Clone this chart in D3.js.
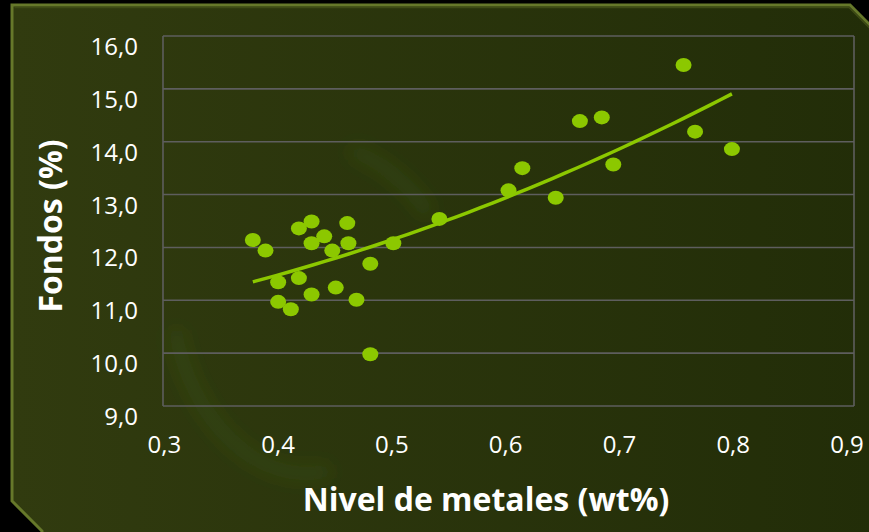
<!DOCTYPE html>
<html>
<head>
<meta charset="utf-8">
<script src="https://cdn.jsdelivr.net/npm/d3@7/dist/d3.min.js"></script>
<style>
  html, body { margin: 0; padding: 0; background: #000; }
  svg { display: block; }
</style>
</head>
<body>
<svg id="chart" width="869" height="532"></svg>
<script>
// Metal content (wt%) vs. bottoms yield (%)
const metales = [0.378, 0.389, 0.400, 0.400, 0.411, 0.418, 0.418, 0.429, 0.429, 0.429,
                 0.440, 0.447, 0.450, 0.460, 0.461, 0.468, 0.480, 0.480, 0.500, 0.540,
                 0.600, 0.612, 0.641, 0.662, 0.681, 0.691, 0.752, 0.762, 0.794];
const fondos  = [12.14, 11.94, 11.34, 10.97, 10.83, 12.36, 11.42, 12.49, 12.08, 11.11,
                 12.21, 11.94, 11.24, 12.46, 12.08, 11.01, 11.69, 9.98, 12.08, 12.54,
                 13.08, 13.50, 12.94, 14.39, 14.46, 13.57, 15.45, 14.19, 13.86];
const xTicks = [0.3, 0.4, 0.5, 0.6, 0.7, 0.8, 0.9];
const yTicks = [9, 10, 11, 12, 13, 14, 15, 16];

(function draw() {
  const svg = d3.select("#chart");
  const W = 869, H = 532;
  const pLeft = 163, pRight = 854, pTop = 36, pBottom = 406;
  const green = "#8cc800";
  const fmt = v => d3.format(".1f")(v).replace(".", ",");

  const x = d3.scaleLinear().domain([0.3, 0.9]).range([pLeft, pRight]);
  const y = d3.scaleLinear().domain([9, 16]).range([pBottom, pTop]);

  // background panel
  const defs = svg.append("defs");
  const grad = defs.append("linearGradient").attr("id", "panel")
    .attr("x1", "0").attr("x2", "1").attr("y1", "0").attr("y2", "0");
  grad.append("stop").attr("offset", "0").attr("stop-color", "#313b0f");
  grad.append("stop").attr("offset", "1").attr("stop-color", "#222d08");
  defs.append("filter").attr("id", "soft")
    .attr("x", "-50%").attr("y", "-50%").attr("width", "200%").attr("height", "200%")
    .append("feGaussianBlur").attr("stdDeviation", 9);

  svg.append("rect").attr("width", W).attr("height", H).attr("fill", "#000");
  svg.append("path").attr("d", "M12,5 L850,5 L876,31 L876,540 L42,540 L42,531 L12,501 Z")
    .attr("fill", "url(#panel)").attr("stroke", "#66782a").attr("stroke-width", 3);
  svg.append("path").attr("d", "M14.5,7.5 L849,7.5 L873,31.5")
    .attr("fill", "none").attr("stroke", "#3f4b16").attr("stroke-width", 1.5);

  // faint decorative swirl
  svg.append("path")
    .attr("d", "M175,330 C190,420 260,490 330,470 M350,150 C380,160 410,185 430,215")
    .attr("fill", "none").attr("stroke", "#4f7a1c").attr("stroke-opacity", 0.18)
    .attr("stroke-width", 16).attr("filter", "url(#soft)");

  // gridlines and plot border
  const g = svg.append("g");
  g.selectAll("line.grid").data(yTicks).join("line")
    .attr("x1", pLeft).attr("x2", pRight)
    .attr("y1", d => y(d)).attr("y2", d => y(d))
    .attr("stroke", "#5e5e5e").attr("stroke-width", 1.6);
  g.append("line").attr("x1", pLeft).attr("x2", pLeft).attr("y1", pTop).attr("y2", pBottom)
    .attr("stroke", "#5e5e5e").attr("stroke-width", 1.6);
  g.append("line").attr("x1", pRight).attr("x2", pRight).attr("y1", pTop).attr("y2", pBottom)
    .attr("stroke", "#5e5e5e").attr("stroke-width", 1.6);

  // tick labels
  svg.selectAll("text.yt").data(yTicks).join("text")
    .attr("x", 138).attr("y", d => y(d) + 19)
    .attr("text-anchor", "end").attr("fill", "#fff")
    .attr("font-family", "Open Sans").attr("font-size", 24)
    .text(fmt);
  svg.selectAll("text.xt").data(xTicks).join("text")
    .attr("x", d => x(d) - (d - 0.4) * 14).attr("y", 453)
    .attr("text-anchor", "middle").attr("fill", "#fff")
    .attr("font-family", "Open Sans").attr("font-size", 24)
    .text(fmt);

  // axis titles
  svg.append("text").attr("x", 486).attr("y", 511)
    .attr("text-anchor", "middle").attr("fill", "#fff")
    .attr("font-family", "Open Sans").attr("font-weight", "bold").attr("font-size", 32)
    .text("Nivel de metales (wt%)");
  svg.append("text").attr("transform", "translate(62,226) rotate(-90)")
    .attr("text-anchor", "middle").attr("fill", "#fff")
    .attr("font-family", "Open Sans").attr("font-weight", "bold").attr("font-size", 32)
    .text("Fondos (%)");

  // quadratic least-squares trend line
  const pts = metales.map((m, i) => [m, fondos[i]]);
  function polyFit(data, deg) {
    const n = deg + 1;
    const A = Array.from({length: n}, () => new Array(n + 1).fill(0));
    for (const [xv, yv] of data) {
      for (let r = 0; r < n; r++) {
        for (let c = 0; c < n; c++) A[r][c] += Math.pow(xv, r + c);
        A[r][n] += yv * Math.pow(xv, r);
      }
    }
    for (let i = 0; i < n; i++) {
      let p = i;
      for (let k = i + 1; k < n; k++) if (Math.abs(A[k][i]) > Math.abs(A[p][i])) p = k;
      [A[i], A[p]] = [A[p], A[i]];
      for (let k = i + 1; k < n; k++) {
        const f = A[k][i] / A[i][i];
        for (let c = i; c <= n; c++) A[k][c] -= f * A[i][c];
      }
    }
    const coef = new Array(n).fill(0);
    for (let i = n - 1; i >= 0; i--) {
      let s = A[i][n];
      for (let c = i + 1; c < n; c++) s -= A[i][c] * coef[c];
      coef[i] = s / A[i][i];
    }
    return coef;
  }
  const coef = polyFit(pts, 2);
  const [xmin, xmax] = d3.extent(metales);
  const trend = d3.range(0, 41).map(i => {
    const xv = xmin + (xmax - xmin) * i / 40;
    return [xv, coef[0] + coef[1] * xv + coef[2] * xv * xv];
  });
  svg.append("path").datum(trend)
    .attr("d", d3.line().x(d => x(d[0])).y(d => y(d[1])))
    .attr("fill", "none").attr("stroke", green).attr("stroke-width", 3.5);

  // data points
  svg.selectAll("ellipse.pt").data(pts).join("ellipse")
    .attr("cx", d => x(d[0])).attr("cy", d => y(d[1]))
    .attr("rx", 8).attr("ry", 7)
    .attr("fill", green);
})();
</script>
</body>
</html>
